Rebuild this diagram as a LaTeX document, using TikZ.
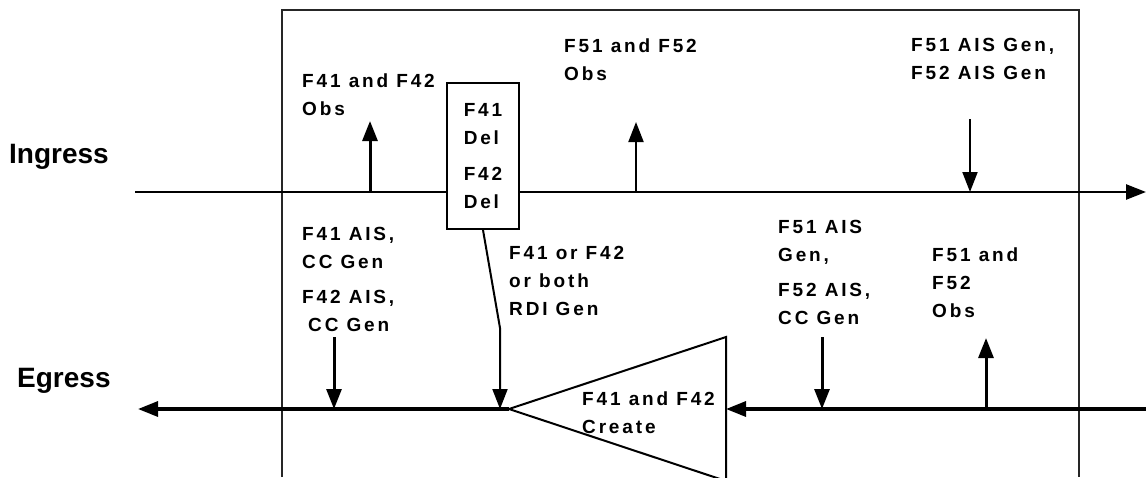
\documentclass[tikz,border=0pt]{standalone}
\usepackage{fontspec}
\setmainfont{Liberation Sans}
\newfontfamily\lblfont{Liberation Sans Bold}[LetterSpace=15]
\newfontfamily\bigfont{Liberation Sans Bold}
\usetikzlibrary{arrows.meta}
\begin{document}
\begin{tikzpicture}[x=1pt,y=-1pt,
  lbl/.style={anchor=north west, inner sep=0pt, align=left,
    font=\lblfont\fontsize{19}{28}\selectfont},
  big/.style={anchor=base west, inner sep=0pt,
    font=\bigfont\fontsize{28}{32}\selectfont},
  tipped/.style={-{Triangle[length=20pt,width=15pt]}},
  thinarr/.style={tipped, line width=2pt},
  thickarr/.style={tipped, line width=3pt},
  frame/.style={line width=2.2pt, draw=black!85},
  ingress/.style={line width=2.5pt},
  egress/.style={line width=3.2pt},
  delbox/.style={draw, line width=2pt, fill=white, minimum width=72pt,
    minimum height=146pt, inner sep=0pt, align=left,
    font=\lblfont\fontsize{19}{28}\selectfont},
  tri/.style={draw, line width=2pt, fill=white}
]
\useasboundingbox (0,0) rectangle (1146,477);

% outer frame (open at the bottom)
\draw[frame] (282,477) -- (282,10) -- (1079,10) -- (1079,477);

% side labels
\node[big] (ing) at (9,163) {Ingress};
\node[big] (egr) at (17,387) {Egress};

% ingress line
\coordinate (inL) at (135,192);
\coordinate (inR) at (1146,192);
\draw[ingress,tipped] (inL) -- (inR);

% delete box
\node[delbox] (del) at (483,156) {F41\\Del\\[8pt]F42\\Del};

% ingress arrows
\coordinate (a1s) at (370,192); \coordinate (a1e) at (370,121);
\draw[thickarr] (a1s) -- (a1e);
\coordinate (a2s) at (636,192); \coordinate (a2e) at (636,122);
\draw[thinarr] (a2s) -- (a2e);
\coordinate (a3s) at (970,119); \coordinate (a3e) at (970,192);
\draw[thinarr] (a3s) -- (a3e);

% ingress labels
\node[lbl] (l1) at (302,73.5) {F41 and F42\\Obs};
\node[lbl] (l2) at (564,38.5) {F51 and F52\\Obs};
\node[lbl] (l3) at (911,38.5) {F51 AIS Gen,\\F52 AIS Gen};

% triangle
\coordinate (tt) at (509,409);
\coordinate (tu) at (726,337);
\coordinate (tb) at (726,481);
\coordinate (tr) at (726,409);
\draw[tri] (tt) -- (tu) -- (tb) -- cycle;

% egress line
\coordinate (egR) at (1146,409);
\coordinate (egL) at (138,409);
\draw[egress,tipped] (egR) -- (tr);
\draw[egress,tipped] (tt) -- (egL);

% egress arrows
\coordinate (b1s) at (334,337); \coordinate (b1e) at (334,409);
\draw[thickarr] (b1s) -- (b1e);
\coordinate (rdiK) at (500,328); \coordinate (rdiE) at (500,409);
\draw[line width=2pt,tipped] (del.south) -- (rdiK) -- (rdiE);
\coordinate (b2s) at (822,337); \coordinate (b2e) at (822,409);
\draw[thickarr] (b2s) -- (b2e);
\coordinate (b3s) at (986,409); \coordinate (b3e) at (986,338);
\draw[thickarr] (b3s) -- (b3e);

% egress labels
\node[lbl] (l4) at (302,227.5) {F41 AIS,\\CC Gen\\[7pt]F42 AIS,\\\hspace{6pt}CC Gen};
\node[lbl] (l5) at (509,246.5) {F41 or F42\\or both\\RDI Gen};
\node[lbl] (l6) at (582,391.5) {F41 and F42\\Create};
\node[lbl] (l7) at (778,220.5) {F51 AIS\\Gen,\\[7pt]F52 AIS,\\CC Gen};
\node[lbl] (l8) at (932,247.5) {F51 and\\F52\\Obs};
\end{tikzpicture}
\end{document}
